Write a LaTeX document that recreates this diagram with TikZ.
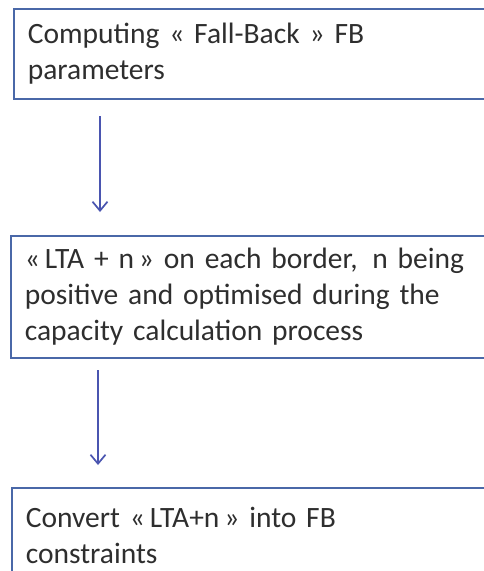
\documentclass[tikz,border=0pt]{standalone}
\usepackage{fontspec}
\setmainfont{Carlito}
\usetikzlibrary{arrows.meta}
\definecolor{txtc}{HTML}{2E2E2E}
\definecolor{boxc}{HTML}{4A68A8}
\definecolor{arrc}{HTML}{4A55B0}
\tikzset{
  stepbox/.style={draw=boxc, line width=1.7pt, anchor=north west, align=left,
    text width=455pt, inner xsep=13pt, inner ysep=0pt, minimum width=483pt,
    text=txtc, font=\fontsize{29.5}{36}\selectfont},
  flow/.style={draw=arrc, line width=1.7pt, -{Straight Barb[length=9pt,width=15pt,line width=1.7pt]}}
}
\begin{document}
\begin{tikzpicture}[x=1pt,y=-1pt]
\useasboundingbox (0,0) rectangle (484,571);
\node[stepbox, minimum height=90pt] (b1) at (13,8) {Computing « Fall-Back » FB\\parameters};
\node[stepbox, minimum height=122pt] (b2) at (10,235) {«\,LTA + n\,» on each border,\,\ n being\\positive and optimised during the\\capacity calculation process};
\node[stepbox, minimum height=95pt] (b3) at (11,487) {Convert «\,LTA+n\,» into FB\\constraints};
\coordinate (a1s) at (100,116);
\coordinate (a1e) at (100,212);
\coordinate (a2s) at (98,370);
\coordinate (a2e) at (98,465);
\draw[flow] (a1s) -- (a1e);
\draw[flow] (a2s) -- (a2e);
\end{tikzpicture}
\end{document}
